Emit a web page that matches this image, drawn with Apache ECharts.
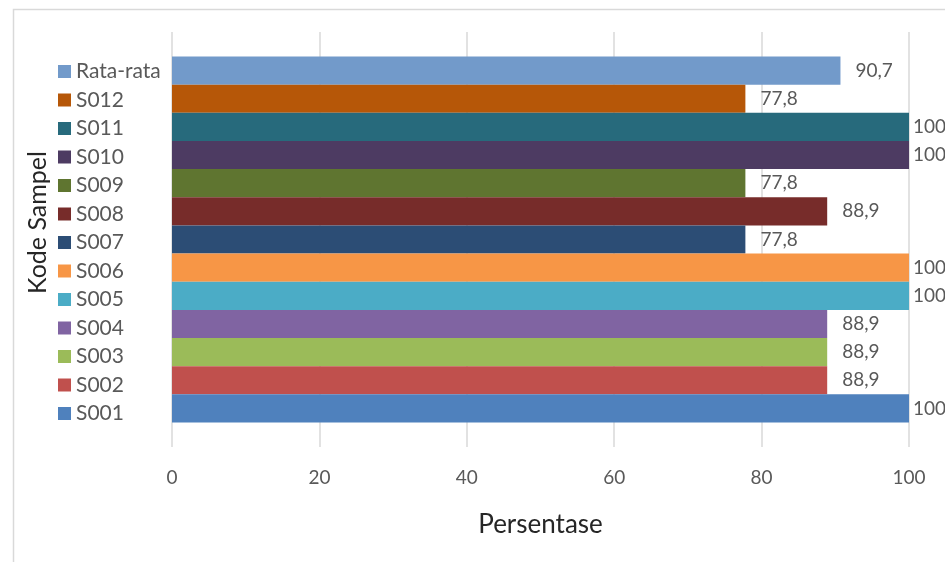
<!DOCTYPE html>
<html>
<head>
<meta charset="utf-8">
<script src="https://cdn.jsdelivr.net/npm/echarts@6/dist/echarts.min.js"></script>
<style>html,body{margin:0;padding:0;background:#fff;}#c{width:945px;height:562px;}</style>
</head>
<body>
<div id="c"></div>
<script>
var categories = ['S001','S002','S003','S004','S005','S006','S007','S008','S009','S010','S011','S012','Rata-rata'];
var values = [100, 88.9, 88.9, 88.9, 100, 100, 77.8, 88.9, 77.8, 100, 100, 77.8, 90.7];
var colors = ['#4F81BD','#C0504D','#9BBB59','#8064A2','#4BACC6','#F79646','#2C4D75','#772C2A','#5F7530','#4D3B62','#276A7C','#B65708','#729ACA'];
var xTicks = [0, 20, 40, 60, 80, 100];
var xTitle = 'Persentase';
var yTitle = 'Kode Sampel';

var FONT = 'Lato';
var chart = echarts.init(document.getElementById('c'));
// ECharts places the first series of a horizontal group at the top, so add them top-down
var order = categories.map(function (_, i) { return i; }).reverse();
var series = order.map(function (i) {
  return {
    type: 'bar',
    name: categories[i],
    data: [values[i]],
    itemStyle: { color: colors[i] },
    barGap: '0%',
    barCategoryGap: '11.8%',
    label: {
      show: true,
      position: 'right',
      distance: values[i] >= 100 ? 4 : 15,
      color: '#595959',
      fontFamily: FONT,
      fontSize: 19,
      formatter: function (p) { return String(p.value).replace('.', ','); }
    }
  };
});

chart.setOption({
  animation: false,
  backgroundColor: '#fff',
  graphic: [{
    type: 'rect', left: 11, top: 7, shape: { width: 960, height: 600 },
    style: { fill: 'none', stroke: '#D9D9D9', lineWidth: 1.5 }, silent: true, z: -1
  }],
  grid: { left: 172, right: 36, top: 32, bottom: 115, containLabel: false },
  legend: {
    orient: 'vertical',
    left: 58,
    top: 61,
    padding: 0,
    itemWidth: 13,
    itemHeight: 13,
    itemGap: 7.5,
    icon: 'rect',
    data: categories.slice().reverse(),
    textStyle: { color: '#595959', fontFamily: FONT, fontSize: 21 },
    selectedMode: false
  },
  xAxis: {
    type: 'value',
    min: xTicks[0],
    max: xTicks[xTicks.length - 1],
    interval: xTicks[1] - xTicks[0],
    axisLine: { show: false },
    axisTick: { show: false },
    splitLine: { show: true, lineStyle: { color: '#D9D9D9', width: 1.5 } },
    axisLabel: { color: '#595959', fontFamily: FONT, fontSize: 19, margin: 21 },
    name: xTitle,
    nameLocation: 'middle',
    nameGap: 65,
    nameTextStyle: { color: '#262626', fontFamily: FONT, fontSize: 26 }
  },
  yAxis: {
    type: 'category',
    data: [''],
    axisLine: { show: false },
    axisTick: { show: false },
    axisLabel: { show: false },
    name: yTitle,
    nameLocation: 'middle',
    nameRotate: 90,
    nameGap: 122,
    nameTextStyle: { color: '#262626', fontFamily: FONT, fontSize: 25, padding: [0, 0, 0, 34] }
  },
  series: series
});
</script>
</body>
</html>
